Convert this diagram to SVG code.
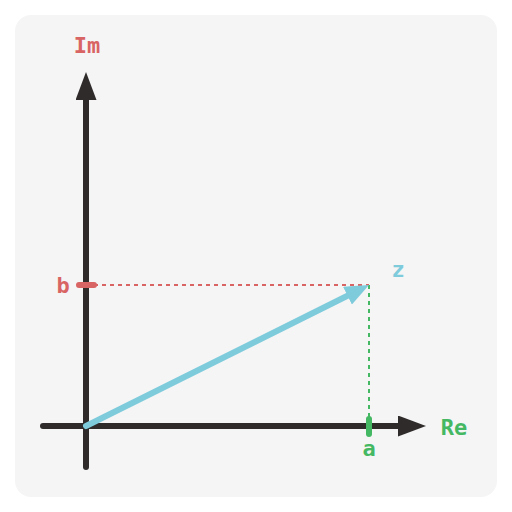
<svg xmlns="http://www.w3.org/2000/svg" width="512" height="512" viewBox="0 0 512 512">
<style>
.lbl{font-family:"DejaVu Sans Mono","Liberation Mono",monospace;font-weight:bold;font-size:22px;text-anchor:middle;dominant-baseline:central}
.axis{stroke:#2f2b2b;stroke-width:6;stroke-linecap:round;fill:none}
</style>
<defs>
<marker id="ah" viewBox="0 0 10 10" refX="0" refY="5" markerWidth="4.67" markerHeight="3.5" preserveAspectRatio="none" markerUnits="strokeWidth" orient="auto"><path d="M0,0 L10,5 L0,10 Z" fill="#2f2b2b"/></marker>
<marker id="bh" viewBox="0 0 10 10" refX="0" refY="5" markerWidth="4" markerHeight="3.3" preserveAspectRatio="none" markerUnits="strokeWidth" orient="auto"><path d="M0,0 L10,5 L0,10 Z" fill="#7ecbdc"/></marker>
</defs>
<rect x="15" y="15" width="482" height="482" rx="16" fill="#f5f5f5"/>
<g id="connectors">
<line x1="86" y1="285" x2="369" y2="285" stroke="#d96464" stroke-width="2" stroke-dasharray="4,4"/>
<line x1="369" y1="285" x2="369" y2="426" stroke="#45b863" stroke-width="2" stroke-dasharray="4,4"/>
<line class="axis" x1="43" y1="426" x2="398" y2="426" marker-end="url(#ah)"/>
<line class="axis" x1="86" y1="467" x2="86" y2="100" marker-end="url(#ah)"/>
<line x1="86" y1="426" x2="347.5" y2="295.7" stroke="#7ecbdc" stroke-width="6" stroke-linecap="round" marker-end="url(#bh)"/>
<line x1="79" y1="285" x2="94" y2="285" stroke="#d96464" stroke-width="6" stroke-linecap="round"/>
<line x1="369" y1="419" x2="369" y2="434" stroke="#45b863" stroke-width="6" stroke-linecap="round"/>
</g>
<g id="label-im"><text class="lbl" x="87" y="45" fill="#d96464">Im</text></g>
<g id="label-b"><text class="lbl" x="63" y="285" fill="#d96464">b</text></g>
<g id="label-z"><text class="lbl" x="398" y="269" fill="#7ecbdc">z</text></g>
<g id="label-re"><text class="lbl" x="454" y="427" fill="#45b863">Re</text></g>
<g id="label-a"><text class="lbl" x="369" y="448" fill="#45b863">a</text></g>
</svg>
